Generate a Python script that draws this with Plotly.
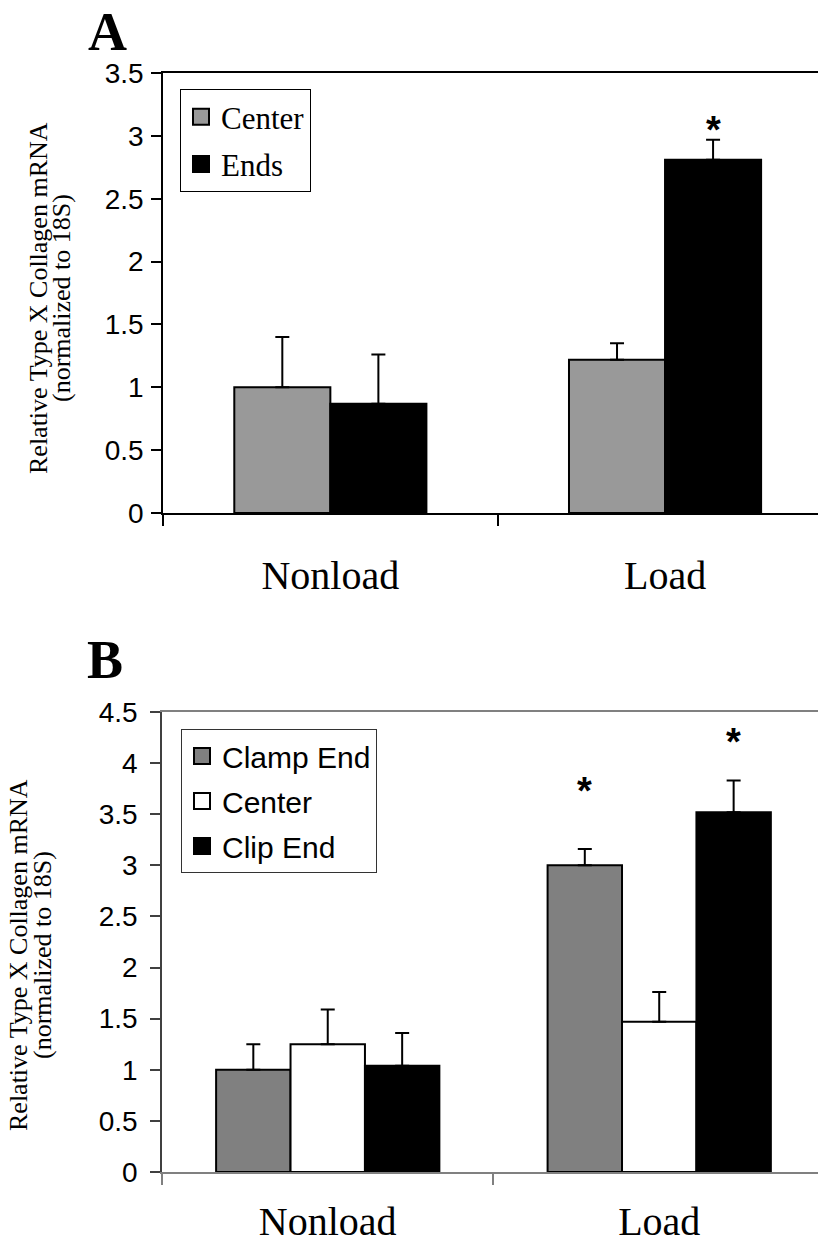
import plotly.graph_objects as go

# ---------------- data ----------------
groups = ["Nonload", "Load"]
group_idx = [0, 1]

# Panel A
a_center = [1.00, 1.22]
a_center_err = [0.40, 0.13]
a_ends = [0.87, 2.81]
a_ends_err = [0.39, 0.16]
a_sig_y = [None, 3.12]          # asterisk heights (Ends)
a_yticks = [0, 0.5, 1, 1.5, 2, 2.5, 3, 3.5]

# Panel B
b_clamp = [1.00, 3.00]
b_clamp_err = [0.25, 0.16]
b_center = [1.25, 1.47]
b_center_err = [0.34, 0.29]
b_clip = [1.04, 3.52]
b_clip_err = [0.32, 0.31]
b_sig_clamp_y = [None, 3.82]
b_sig_clip_y = [None, 4.29]
b_yticks = [0, 0.5, 1, 1.5, 2, 2.5, 3, 3.5, 4, 4.5]

SERIF = "Liberation Serif, Times New Roman, serif"
SANS = "Liberation Sans, Arial, sans-serif"

fig = go.Figure()
ann = []


def add_bar(x, y, err, color, offset, width, xa, ya):
    fig.add_trace(go.Bar(
        x=x, y=y, offset=offset, width=width,
        marker=dict(color=color, line=dict(color="black", width=2)),
        error_y=dict(type="data", array=err, arrayminus=[0] * len(err),
                     symmetric=False, color="black", thickness=2, width=7),
        showlegend=False, xaxis=xa, yaxis=ya, hoverinfo="y"))


def add_sig(x, y, offset, width, xa, ya):
    for xi, yi in zip(x, y):
        if yi is None:
            continue
        ann.append(dict(text="<b>*</b>", x=xi + offset + width / 2, y=yi,
                        xref=xa, yref=ya, xanchor="center", yanchor="middle",
                        yshift=-9, showarrow=False,
                        font=dict(family=SANS, size=38, color="black")))


def add_legend_item(name, color, legend, xa, ya):
    fig.add_trace(go.Scatter(
        x=[None], y=[None], mode="markers", name=name, legend=legend,
        legendgroup=legend + name,
        marker=dict(symbol="square", size=20, color=color,
                    line=dict(color="black", width=2)),
        xaxis=xa, yaxis=ya, showlegend=True))


# ---- Panel A ----
wa = 0.287
add_bar(group_idx, a_center, a_center_err, "#999999", -wa, wa, "x", "y")
add_bar(group_idx, a_ends, a_ends_err, "#000000", 0.0, wa, "x", "y")
add_sig(group_idx, a_sig_y, 0.0, wa, "x", "y")
add_legend_item("Center", "#999999", "legend", "x", "y")
add_legend_item("Ends", "#000000", "legend", "x", "y")

# ---- Panel B ----
wb = 0.2245
add_bar(group_idx, b_clamp, b_clamp_err, "#808080", -1.5 * wb, wb, "x2", "y2")
add_bar(group_idx, b_center, b_center_err, "#FFFFFF", -0.5 * wb, wb, "x2", "y2")
add_bar(group_idx, b_clip, b_clip_err, "#000000", 0.5 * wb, wb, "x2", "y2")
add_sig(group_idx, b_sig_clamp_y, -1.5 * wb, wb, "x2", "y2")
add_sig(group_idx, b_sig_clip_y, 0.5 * wb, wb, "x2", "y2")
add_legend_item("Clamp End", "#808080", "legend2", "x2", "y2")
add_legend_item("Center", "#FFFFFF", "legend2", "x2", "y2")
add_legend_item("Clip End", "#000000", "legend2", "x2", "y2")

W, H = 818, 1251


def xaxis_cfg(domain, rng, linecolor, standoff):
    return dict(
        domain=domain, range=rng, tickvals=group_idx, ticktext=groups,
        ticks="", showgrid=False, zeroline=False, showline=True,
        linecolor=linecolor, linewidth=1.5, mirror=True, automargin=False,
        tickfont=dict(family=SERIF, size=40, color="black"),
        ticklabelstandoff=standoff,
        minor=dict(tickvals=[-0.5, 0.5, 1.5], ticks="outside", ticklen=11,
                   tickcolor=linecolor, tickwidth=1.5, showgrid=False),
    )


def yaxis_cfg(domain, ticks, anchor, linecolor, standoff):
    return dict(
        domain=domain, range=[0, ticks[-1]], tickvals=ticks,
        ticktext=[f"{t:g}" for t in ticks], ticks="outside", ticklen=10,
        tickcolor=linecolor, tickwidth=1.5, showgrid=False, zeroline=False,
        showline=True, linecolor=linecolor, linewidth=1.5, anchor=anchor,
        automargin=False,
        tickfont=dict(family=SANS, size=28, color="black"),
        ticklabelstandoff=standoff,
    )


fig.update_layout(
    width=W, height=H, margin=dict(l=0, r=0, t=0, b=0, autoexpand=False),
    paper_bgcolor="white", plot_bgcolor="white", barmode="overlay",
    xaxis=xaxis_cfg([163 / W, 1], [-0.5, 1.457], "#000000", 26),
    yaxis=yaxis_cfg([1 - 513 / H, 1 - 73 / H], a_yticks, "x", "#000000", 2),
    xaxis2=dict(xaxis_cfg([162 / W, 1], [-0.5, 1.479], "#808080", 13), anchor="y2"),
    yaxis2=yaxis_cfg([1 - 1172 / H, 1 - 712 / H], b_yticks, "x2", "#404040", 7),
    legend=dict(x=180 / W, y=1 - 89 / H, xanchor="left", yanchor="top",
                bgcolor="white", bordercolor="#000000", borderwidth=1,
                font=dict(family=SERIF, size=31, color="black"),
                traceorder="grouped", tracegroupgap=4, itemsizing="trace"),
    legend2=dict(x=181 / W, y=1 - 729 / H, xanchor="left", yanchor="top",
                 bgcolor="white", bordercolor="#333333", borderwidth=1,
                 font=dict(family=SANS, size=30, color="black"),
                 traceorder="grouped", tracegroupgap=3, itemsizing="trace"),
    showlegend=True,
)

# panel letters
ann.append(dict(text="<b>A</b>", x=107 / W, y=1 - 32 / H, xref="paper", yref="paper",
                xanchor="center", yanchor="middle", showarrow=False,
                font=dict(family=SERIF, size=54, color="black")))
ann.append(dict(text="<b>B</b>", x=105 / W, y=1 - 660 / H, xref="paper", yref="paper",
                xanchor="center", yanchor="middle", showarrow=False,
                font=dict(family=SERIF, size=54, color="black")))
# y-axis titles (two lines each)
for (x1, x2, yc) in [(38, 61, 298), (18, 42, 955)]:
    ann.append(dict(text="Relative Type X Collagen mRNA", x=x1 / W, y=1 - yc / H,
                    xref="paper", yref="paper", textangle=-90, showarrow=False,
                    xanchor="center", yanchor="middle",
                    font=dict(family=SERIF, size=26, color="black")))
    ann.append(dict(text="(normalized to 18S)", x=x2 / W, y=1 - yc / H,
                    xref="paper", yref="paper", textangle=-90, showarrow=False,
                    xanchor="center", yanchor="middle",
                    font=dict(family=SERIF, size=26, color="black")))
fig.update_layout(annotations=ann)

fig.write_html("out.html")
